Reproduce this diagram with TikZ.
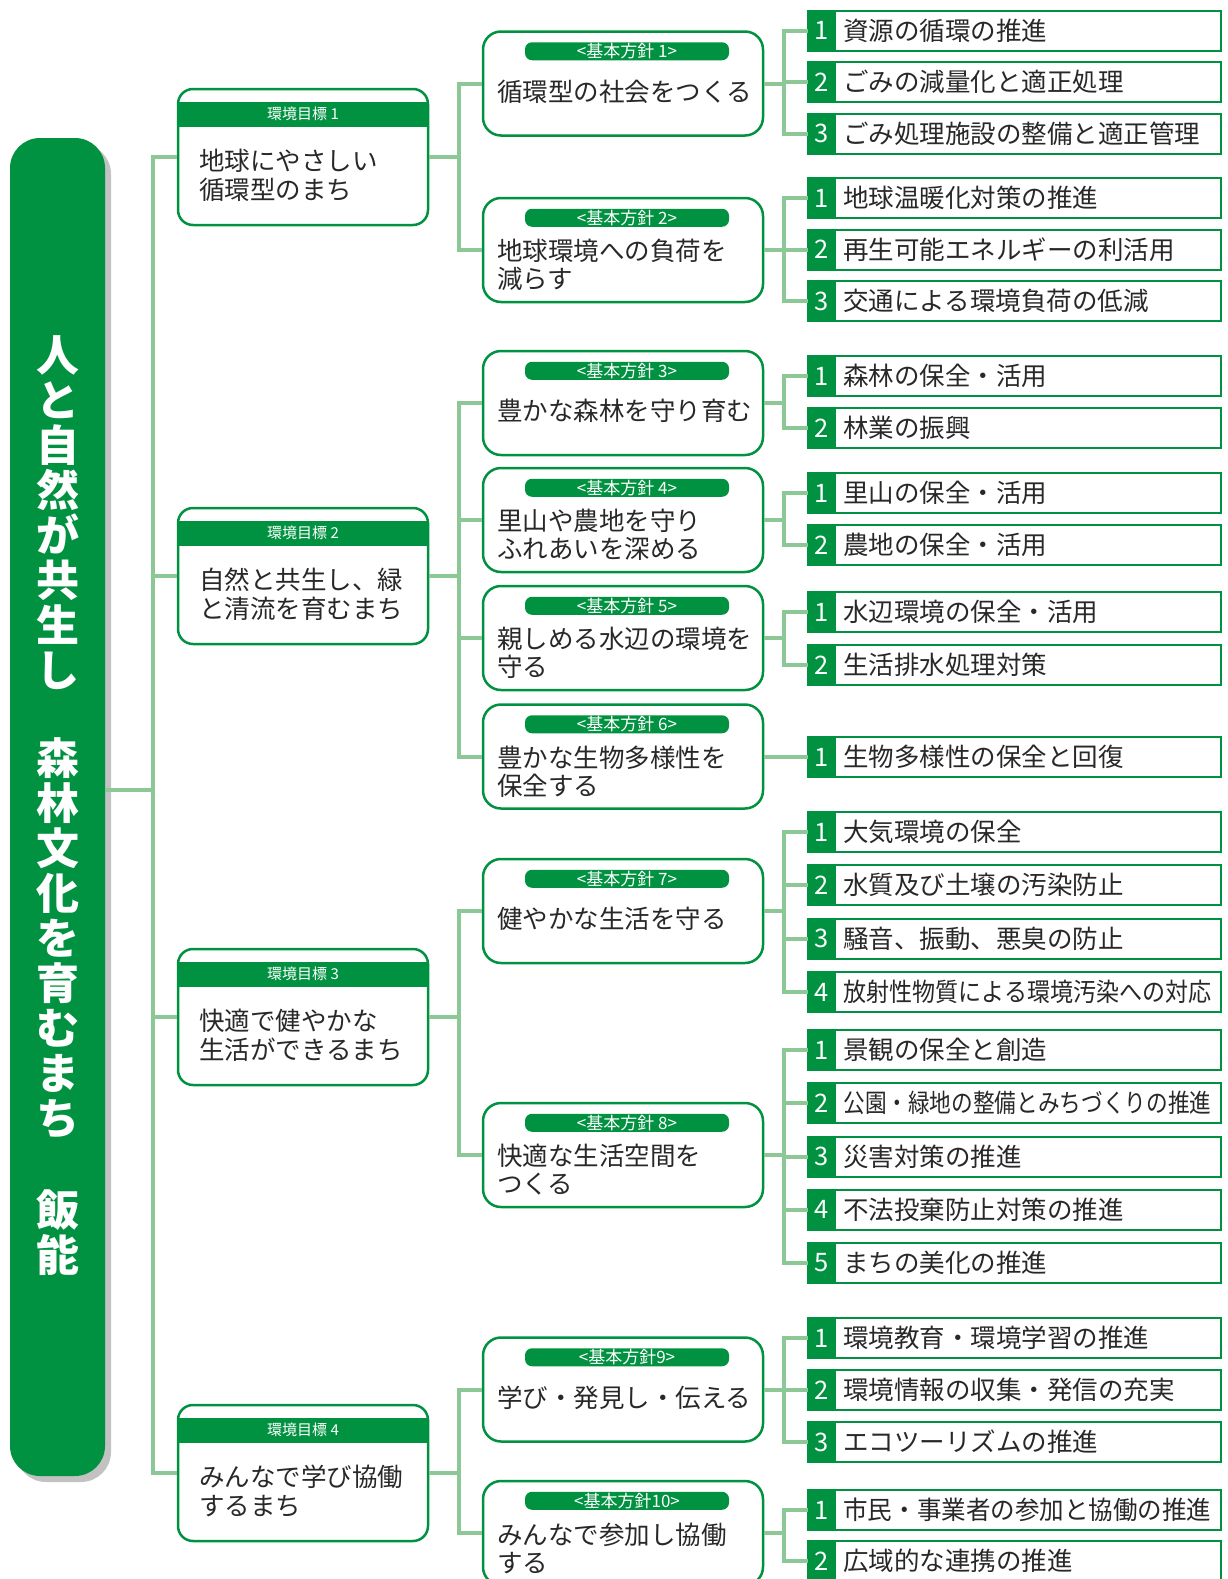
\documentclass[tikz,border=0pt]{standalone}
\usepackage{fontspec}
\setmainfont{Noto Sans CJK JP}
\usepackage{graphicx}
\usetikzlibrary{positioning,shadows}

\definecolor{mgreen}{RGB}{0,146,64}
\definecolor{lgreen}{RGB}{139,200,150}
\definecolor{ink}{RGB}{40,40,40}

% squeeze long item texts into the row
\newsavebox{\fitbox}
\newcommand{\fitw}[1]{\sbox{\fitbox}{#1}%
  \ifdim\wd\fitbox>184pt\resizebox{184pt}{\height}{\usebox{\fitbox}}\else\usebox{\fitbox}\fi}

% items of one policy: #1 policy node, #2 first y, #3 pitch, #4 texts
\newcommand{\policyitems}[4]{%
  \coordinate (#1k) at ([xshift=10pt]#1.east);
  \draw[link] (#1.east) -- (#1k);
  \foreach \t [count=\i] in {#4} {
    \pgfmathsetmacro{\yy}{#2+#3*(\i-1)}
    \node[item] (#1i\i) at (808,\yy) {};
    \node[numcell] at (#1i\i.west) {\i};
    \node[itemtext] at ([xshift=17.5pt]#1i\i.west) {\fitw{\t}};
    \draw[link] (#1k) |- (#1i\i.west);
  }%
}

\begin{document}
\begin{tikzpicture}[x=0.5pt,y=-0.5pt,
  link/.style={draw=lgreen,line width=2pt},
  titlebar/.style={fill=mgreen,rounded corners=15pt,minimum width=47.5pt,minimum height=669pt,
    drop shadow={shadow xshift=3pt,shadow yshift=-3pt,fill=black!40,opacity=.6}},
  bartext/.style={text=white,align=center,inner sep=0,font=\bfseries\fontsize{21.5}{22.5}\selectfont},
  goalbox/.style={draw=mgreen,fill=white,line width=1.25pt,rounded corners=7.5pt,minimum width=125pt,minimum height=68pt},
  goalhead/.style={fill=mgreen,text=white,minimum width=125pt,minimum height=12.5pt,inner sep=0,outer sep=0,font=\fontsize{7.5}{7.5}\selectfont},
  goaltext/.style={anchor=west,align=left,inner sep=0,text=ink,font=\fontsize{12.75}{14.5}\selectfont},
  policybox/.style={draw=mgreen,fill=white,line width=1.25pt,rounded corners=9pt,minimum width=140pt,minimum height=52pt},
  pill/.style={fill=mgreen,text=white,rounded corners=3.5pt,minimum width=102pt,minimum height=9pt,inner sep=0,outer sep=0,font=\fontsize{8.5}{8.5}\selectfont},
  ptext/.style={anchor=west,align=left,inner sep=0,text=ink,font=\fontsize{12.75}{14}\selectfont},
  item/.style={draw=mgreen,fill=white,line width=1pt,anchor=west,minimum width=206.5pt,minimum height=20pt,inner sep=0,outer sep=0},
  numcell/.style={fill=mgreen,text=white,anchor=west,minimum width=14pt,minimum height=20pt,inner sep=0,outer sep=0,font=\fontsize{12.75}{12.75}\selectfont},
  itemtext/.style={anchor=west,inner sep=0,text=ink,font=\fontsize{12.75}{12.75}\selectfont}]
\useasboundingbox (0,0) rectangle (1227,1579);

% Vision bar (left)
\node[titlebar] (bar) at (57.5,807) {};
\node[bartext] (bt1) at (57.5,513) {人\\と\\自\\然\\が\\共\\生\\し};
\node[bartext] (bt2) at (57.5,938) {森\\林\\文\\化\\を\\育\\む\\ま\\ち};
\node[bartext] (bt3) at (57.5,1233) {飯\\能};

% Environmental goals
\node[goalbox] (g1) at (303,157) {};
\node[goalhead, below=7pt of g1.north] {環境目標 1};
\node[goaltext] at ([xshift=11pt,yshift=-9pt]g1.west) {地球にやさしい\\循環型のまち};

\node[goalbox] (g2) at (303,576) {};
\node[goalhead, below=7pt of g2.north] {環境目標 2};
\node[goaltext] at ([xshift=11pt,yshift=-9pt]g2.west) {自然と共生し、緑\\と清流を育むまち};

\node[goalbox] (g3) at (303,1017) {};
\node[goalhead, below=7pt of g3.north] {環境目標 3};
\node[goaltext] at ([xshift=11pt,yshift=-9pt]g3.west) {快適で健やかな\\生活ができるまち};

\node[goalbox] (g4) at (303,1473) {};
\node[goalhead, below=7pt of g4.north] {環境目標 4};
\node[goaltext] at ([xshift=11pt,yshift=-9pt]g4.west) {みんなで学び協働\\するまち};

% Trunk
\coordinate (t0) at (153,790);
\draw[link] (bar.east |- t0) -- (t0);
\draw[link] (g1.west) -| (t0) |- (g4.west);
\draw[link] (t0) |- (g2.west);
\draw[link] (t0) |- (g3.west);

% Basic policies
\node[policybox] (p1) at (623,83.5) {};
\node[pill, below=6pt of p1.north, xshift=2pt] {<基本方針 1>};
\node[ptext] at ([xshift=7.5pt,yshift=-4pt]p1.west) {循環型の社会をつくる};

\node[policybox] (p2) at (623,250) {};
\node[pill, below=6pt of p2.north, xshift=2pt] {<基本方針 2>};
\node[ptext] at ([xshift=7.5pt,yshift=-7.5pt]p2.west) {地球環境への負荷を\\減らす};

\node[policybox] (p3) at (623,403) {};
\node[pill, below=6pt of p3.north, xshift=2pt] {<基本方針 3>};
\node[ptext] at ([xshift=7.5pt,yshift=-4pt]p3.west) {豊かな森林を守り育む};

\node[policybox] (p4) at (623,520) {};
\node[pill, below=6pt of p4.north, xshift=2pt] {<基本方針 4>};
\node[ptext] at ([xshift=7.5pt,yshift=-7.5pt]p4.west) {里山や農地を守り\\ふれあいを深める};

\node[policybox] (p5) at (623,638) {};
\node[pill, below=6pt of p5.north, xshift=2pt] {<基本方針 5>};
\node[ptext] at ([xshift=7.5pt,yshift=-7.5pt]p5.west) {親しめる水辺の環境を\\守る};

\node[policybox] (p6) at (623,756.5) {};
\node[pill, below=6pt of p6.north, xshift=2pt] {<基本方針 6>};
\node[ptext] at ([xshift=7.5pt,yshift=-7.5pt]p6.west) {豊かな生物多様性を\\保全する};

\node[policybox] (p7) at (623,911) {};
\node[pill, below=6pt of p7.north, xshift=2pt] {<基本方針 7>};
\node[ptext] at ([xshift=7.5pt,yshift=-4pt]p7.west) {健やかな生活を守る};

\node[policybox] (p8) at (623,1155) {};
\node[pill, below=6pt of p8.north, xshift=2pt] {<基本方針 8>};
\node[ptext] at ([xshift=7.5pt,yshift=-7.5pt]p8.west) {快適な生活空間を\\つくる};

\node[policybox] (p9) at (623,1389.5) {};
\node[pill, below=6pt of p9.north, xshift=2pt] {<基本方針9>};
\node[ptext] at ([xshift=7.5pt,yshift=-4pt]p9.west) {学び・発見し・伝える};

\node[policybox] (p10) at (623,1533) {};
\node[pill, below=6pt of p10.north, xshift=2pt] {<基本方針10>};
\node[ptext] at ([xshift=7.5pt,yshift=-7.5pt]p10.west) {みんなで参加し協働\\する};

% Goal -> policy links
\coordinate (j1) at ([xshift=15pt]g1.east);
\draw[link] (g1.east) -- (j1);
\draw[link] (p1.west) -| (j1) |- (p2.west);

\coordinate (j2) at ([xshift=15pt]g2.east);
\draw[link] (g2.east) -- (j2);
\draw[link] (p3.west) -| (j2) |- (p6.west);
\draw[link] (j2) |- (p4.west);
\draw[link] (j2) |- (p5.west);

\coordinate (j3) at ([xshift=15pt]g3.east);
\draw[link] (g3.east) -- (j3);
\draw[link] (p7.west) -| (j3) |- (p8.west);

\coordinate (j4) at ([xshift=15pt]g4.east);
\draw[link] (g4.east) -- (j4);
\draw[link] (p9.west) -| (j4) |- (p10.west);

% Measures
\policyitems{p1}{30.5}{51.5}{資源の循環の推進, ごみの減量化と適正処理, ごみ処理施設の整備と適正管理}
\policyitems{p2}{198}{51.5}{地球温暖化対策の推進, 再生可能エネルギーの利活用, 交通による環境負荷の低減}
\policyitems{p3}{376}{52}{森林の保全・活用, 林業の振興}
\policyitems{p4}{493}{52}{里山の保全・活用, 農地の保全・活用}
\policyitems{p5}{612}{53}{水辺環境の保全・活用, 生活排水処理対策}
\policyitems{p6}{757}{0}{生物多様性の保全と回復}
\policyitems{p7}{832}{53.3}{大気環境の保全, 水質及び土壌の汚染防止, 騒音、振動、悪臭の防止, 放射性物質による環境汚染への対応}
\policyitems{p8}{1050}{53.25}{景観の保全と創造, 公園・緑地の整備とみちづくりの推進, 災害対策の推進, 不法投棄防止対策の推進, まちの美化の推進}
\policyitems{p9}{1338}{52}{環境教育・環境学習の推進, 環境情報の収集・発信の充実, エコツーリズムの推進}
\policyitems{p10}{1510}{51}{市民・事業者の参加と協働の推進, 広域的な連携の推進}
\end{tikzpicture}
\end{document}
